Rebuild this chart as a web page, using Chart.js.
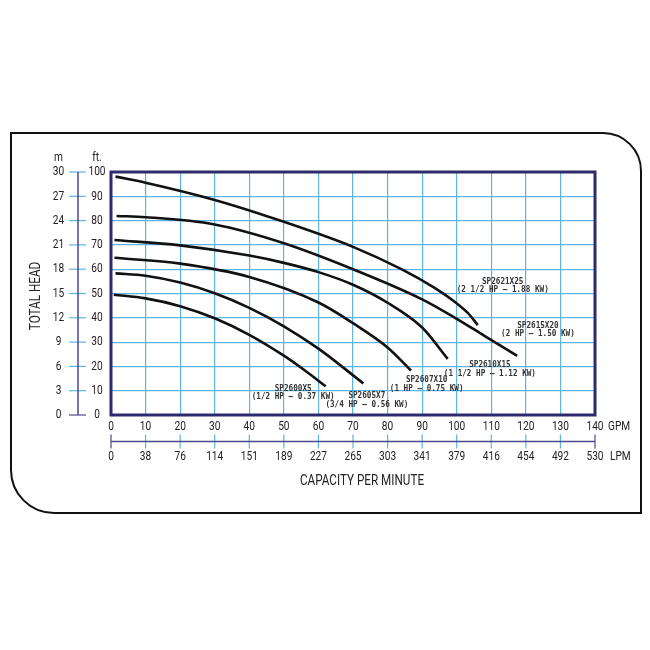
<!DOCTYPE html>
<html>
<head>
<meta charset="utf-8">
<script src="https://cdn.jsdelivr.net/npm/chart.js@4"></script>
<style>
    html, body { margin: 0; padding: 0; background: #fff; }
    #wrap { width: 650px; height: 650px; }
</style>
</head>
<body>
<div id="wrap"><canvas id="curveChart" width="650" height="650"></canvas></div>
<script>
// Axis ticks
const gpmTicks = [0, 10, 20, 30, 40, 50, 60, 70, 80, 90, 100, 110, 120, 130, 140];
const lpmTicks = ["0", "38", "76", "114", "151", "189", "227", "265", "303", "341", "379", "416", "454", "492", "530"];
const ftTicks = [0, 10, 20, 30, 40, 50, 60, 70, 80, 90, 100];
const mTicks = [0, 3, 6, 9, 12, 15, 18, 21, 24, 27, 30];

// Pump models and ratings
const pumpModels = ["SP2621X25", "SP2615X20", "SP2610X15", "SP2607X10", "SP2605X7", "SP2600X5"];
const pumpRatings = ["(2 1/2 HP \u2013 1.88 KW)", "(2 HP \u2013 1.50 KW)", "(1 1/2 HP \u2013 1.12 KW)",
    "(1 HP \u2013 0.75 KW)", "(3/4 HP \u2013 0.56 KW)", "(1/2 HP \u2013 0.37 KW)"];

// Curves: flow (GPM) and head (ft)
const sp2621Gpm = [1.3, 10, 30, 50, 70, 84, 93.6, 99.4, 103.2, 106.1];
const sp2621Head = [98.1, 95.6, 88.5, 79.5, 69.2, 60.0, 52.3, 46.6, 42.0, 37.0];
const sp2615Gpm = [1.6, 10, 30, 50, 70, 90, 100, 108, 117.5];
const sp2615Head = [81.9, 81.4, 78.4, 70.7, 60.0, 47.6, 39.6, 32.6, 24.3];
const sp2610Gpm = [1, 20, 40, 50, 60, 70, 80, 90, 97.4];
const sp2610Head = [72.0, 69.8, 65.6, 62.6, 58.8, 53.6, 46.2, 36.0, 23.1];
const sp2607Gpm = [1, 20, 40, 60, 70, 80, 86.8];
const sp2607Head = [64.7, 62.3, 56.8, 46.3, 37.8, 27.8, 18.3];
const sp2605Gpm = [1.3, 10, 20, 30, 40, 50, 60, 73];
const sp2605Head = [58.3, 57.3, 54.5, 50.1, 44.1, 36.5, 27.3, 13.0];
const sp2600Gpm = [0.8, 10, 20, 30, 40, 50, 56, 62.1];
const sp2600Head = [49.5, 48.0, 44.8, 39.8, 33.0, 24.4, 18.4, 11.8];

const curveGpm = [sp2621Gpm, sp2615Gpm, sp2610Gpm, sp2607Gpm, sp2605Gpm, sp2600Gpm];
const curveHead = [sp2621Head, sp2615Head, sp2610Head, sp2607Head, sp2605Head, sp2600Head];

// where each model's caption sits (GPM, ft)
const captionAt = [[113.3, 54.9], [123.5, 36.9], [109.6, 20.6], [91.3, 14.4], [74, 7.8], [52.7, 10.9]];

const NAVY = "#2d2a6e";
const GRID = "#5cb3e4";
const AXIS = "#4b4a8c";

function toPoints(xs, ys) {
    return xs.map((x, i) => ({ x: x, y: ys[i] }));
}

// condensed text: squeeze horizontally
function drawText(ctx, text, x, y, font, align, squeeze, color) {
    ctx.save();
    ctx.font = font;
    ctx.fillStyle = color || "#222";
    ctx.textBaseline = "middle";
    ctx.translate(x, y);
    ctx.scale(squeeze, 1);
    ctx.textAlign = align;
    ctx.fillText(text, 0, 0);
    ctx.restore();
}

const decorPlugin = {
    id: "decor",
    afterDraw(chart) {
        const ctx = chart.ctx;
        const xs = chart.scales.x;
        const ys = chart.scales.y;
        const area = chart.chartArea;
        const tickFont = "13px Roboto";

        // outer rounded frame
        ctx.save();
        ctx.strokeStyle = "#111";
        ctx.lineWidth = 2;
        ctx.beginPath();
        ctx.moveTo(11, 133);
        ctx.lineTo(603, 133);
        ctx.arcTo(641, 133, 641, 171, 38);
        ctx.lineTo(641, 513);
        ctx.lineTo(55, 513);
        ctx.arcTo(11, 513, 11, 470, 43);
        ctx.closePath();
        ctx.stroke();
        ctx.restore();

        // plot border
        ctx.save();
        ctx.strokeStyle = NAVY;
        ctx.lineWidth = 3;
        ctx.strokeRect(area.left, area.top, area.right - area.left, area.bottom - area.top);
        ctx.restore();

        // left axis (m / ft)
        const axX = 78;
        ctx.save();
        ctx.lineWidth = 1.2;
        ftTicks.forEach((v, i) => {
            const py = ys.getPixelForValue(v);
            ctx.strokeStyle = i === 0 ? AXIS : GRID;
            ctx.beginPath();
            ctx.moveTo(axX - 9, py);
            ctx.lineTo(axX + 8, py);
            ctx.stroke();
            drawText(ctx, String(v), 97, py, tickFont, "center", 0.78);
            drawText(ctx, String(mTicks[i]), 58.5, py, tickFont, "center", 0.78);
        });
        ctx.strokeStyle = AXIS;
        ctx.lineWidth = 1.5;
        ctx.beginPath();
        ctx.moveTo(axX, ys.getPixelForValue(100));
        ctx.lineTo(axX, ys.getPixelForValue(0));
        ctx.stroke();
        ctx.restore();
        drawText(ctx, "m", 58.5, 158, tickFont, "center", 0.78);
        drawText(ctx, "ft.", 97, 158, tickFont, "center", 0.78);

        // bottom axes (GPM / LPM)
        const axY = 441.5;
        ctx.save();
        gpmTicks.forEach((v, i) => {
            const px = xs.getPixelForValue(v);
            drawText(ctx, String(v), px, 427, tickFont, "center", 0.78);
            drawText(ctx, lpmTicks[i], px, 457, tickFont, "center", 0.78);
            const edge = i === 0 || i === gpmTicks.length - 1;
            ctx.strokeStyle = edge ? AXIS : GRID;
            ctx.lineWidth = 1.2;
            ctx.beginPath();
            ctx.moveTo(px, axY - 7);
            ctx.lineTo(px, axY + 7);
            ctx.stroke();
        });
        ctx.strokeStyle = AXIS;
        ctx.lineWidth = 1.5;
        ctx.beginPath();
        ctx.moveTo(xs.getPixelForValue(0), axY);
        ctx.lineTo(xs.getPixelForValue(140), axY);
        ctx.stroke();
        ctx.restore();
        drawText(ctx, "GPM", 608, 427, tickFont, "left", 0.78);
        drawText(ctx, "LPM", 610, 457, tickFont, "left", 0.78);

        // axis titles
        drawText(ctx, "CAPACITY PER MINUTE", 362, 481, "15px Roboto", "center", 0.78);
        ctx.save();
        ctx.translate(36, 296);
        ctx.rotate(-Math.PI / 2);
        drawText(ctx, "TOTAL HEAD", 0, 0, "15px Roboto", "center", 0.78);
        ctx.restore();

        // model captions
        pumpModels.forEach((name, i) => {
            const px = xs.getPixelForValue(captionAt[i][0]);
            const py = ys.getPixelForValue(captionAt[i][1]);
            drawText(ctx, name, px, py, "bold 8.5px 'DejaVu Sans Mono'", "center", 0.9, "#333");
            drawText(ctx, pumpRatings[i], px, py + 8.5, "bold 8.5px 'DejaVu Sans Mono'", "center", 0.9, "#333");
        });
    }
};

const ctx = document.getElementById("curveChart").getContext("2d");
new Chart(ctx, {
    type: "line",
    data: {
        datasets: pumpModels.map((name, i) => ({
            label: name,
            data: toPoints(curveGpm[i], curveHead[i]),
            borderColor: "#111",
            borderWidth: 2.6,
            pointRadius: 0,
            fill: false,
            cubicInterpolationMode: "monotone"
        }))
    },
    options: {
        responsive: false,
        animation: false,
        layout: { padding: { left: 111, top: 172, right: 55, bottom: 235 } },
        plugins: { legend: { display: false }, tooltip: { enabled: false } },
        scales: {
            x: {
                type: "linear",
                min: 0,
                max: 140,
                afterBuildTicks: s => { s.ticks = gpmTicks.map(v => ({ value: v })); },
                afterFit: s => { s.height = 0; },
                ticks: { display: false },
                grid: { color: GRID, lineWidth: 1.2, drawTicks: false },
                border: { display: false }
            },
            y: {
                type: "linear",
                min: 0,
                max: 100,
                afterBuildTicks: s => { s.ticks = ftTicks.map(v => ({ value: v })); },
                afterFit: s => { s.width = 0; },
                ticks: { display: false },
                grid: { color: GRID, lineWidth: 1.2, drawTicks: false },
                border: { display: false }
            }
        }
    },
    plugins: [decorPlugin]
});
</script>
</body>
</html>
